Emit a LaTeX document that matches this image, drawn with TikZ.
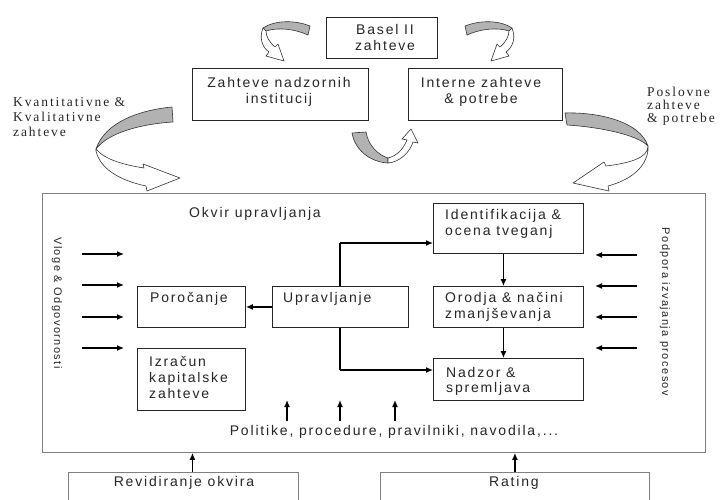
\documentclass[tikz,border=0pt]{standalone}
\usepackage{fontspec}
\setmainfont{Liberation Sans}
\newfontfamily\sansls{Liberation Sans}[LetterSpace=13]
\newfontfamily\serifls{Liberation Serif}[LetterSpace=14]
\usetikzlibrary{arrows.meta}
\begin{document}
\begin{tikzpicture}[x=1pt,y=-1pt,
  box/.style={draw=black!85, line width=0.9pt, fill=white, inner sep=0pt, anchor=north west},
  gbox/.style={draw=black!50, line width=0.9pt, inner sep=0pt, anchor=north west},
  sz/.style 2 args={minimum width=#1pt, minimum height=#2pt},
  txt/.style={font=\sansls\fontsize{14}{16}\selectfont, inner sep=0pt, text=black!85},
  vtxt/.style={font=\sansls\fontsize{11}{13}\selectfont, inner sep=0pt, text=black!85, rotate=-90},
  stxt/.style={font=\serifls\fontsize{13.5}{15}\selectfont, inner sep=0pt, text=black!85, align=left, anchor=north west},
  conn/.style={line width=1.3pt, draw=black, -{Latex[length=7pt,width=6pt]}},
  trunk/.style={line width=1.3pt, draw=black},
  cgray/.style={draw=black!80, line width=0.6pt, line join=round, fill=black!30},
  cwhite/.style={draw=black!80, line width=0.6pt, line join=round, fill=white}
]
\useasboundingbox (0,0) rectangle (720,499);
\clip (0,0) rectangle (720,499);
\fill[white] (0,0) rectangle (720,499);

% ---------- top boxes ----------
\node[box, sz={111}{41}] (basel) at (326,17) {};
\node[txt, align=center, anchor=north] (baselt) at (385,24) {Basel II\\zahteve};
\node[box, sz={176}{52}] (nadz) at (192,68) {};
\node[txt, align=center, anchor=north] (nadzt) at (279,77) {Zahteve nadzornih\\institucij};
\node[box, sz={154}{52}] (intr) at (408,68) {};
\node[txt, align=center, anchor=north] (intrt) at (481,77) {Interne zahteve\\\& potrebe};

% ---------- side labels ----------
\node[stxt] (kvant) at (13,97) {Kvantitativne \&\\Kvalitativne\\zahteve};
\node[stxt, font=\serifls\fontsize{13.5}{13}\selectfont] (posl) at (647,87) {Poslovne\\zahteve\\\& potrebe};

% ---------- curved arrows ----------
% top-left small
\path[cgray] (310,26) .. controls (295,20) and (275,20) .. (263,28) -- (266,31) .. controls (278,27) and (295,29) .. (308,35) -- cycle;
\path[cwhite] (263,28) .. controls (259,38) and (262,47) .. (269,52) -- (266,56) -- (284,61) -- (278,44) -- (275,47) .. controls (269,42) and (266,36) .. (266,31) -- cycle;
% top-right small (mirrored)
\begin{scope}[shift={(775,0)}, xscale=-1]
\path[cgray] (310,26) .. controls (295,20) and (275,20) .. (263,28) -- (266,31) .. controls (278,27) and (295,29) .. (308,35) -- cycle;
\path[cwhite] (263,28) .. controls (259,38) and (262,47) .. (269,52) -- (266,56) -- (284,61) -- (278,44) -- (275,47) .. controls (269,42) and (266,36) .. (266,31) -- cycle;
\end{scope}
% bottom middle
\path[cgray] (352,133) .. controls (355,150) and (370,162) .. (388,163) -- (388,158) .. controls (378,155) and (368,145) .. (366,132) -- cycle;
\path[cwhite] (388,163) .. controls (400,162) and (410,152) .. (413,142) -- (418,143) -- (411,129) -- (402,139) -- (407,140) .. controls (403,150) and (396,156) .. (388,158) -- cycle;
% left large
\path[cgray] (172,107) .. controls (140,110) and (105,122) .. (96,149) .. controls (108,133) and (140,124) .. (173,122) -- cycle;
\path[cwhite] (96,149) .. controls (105,160) and (125,165) .. (144,168) -- (143,164) -- (180,178) -- (147,191) -- (146,186) .. controls (118,180) and (100,168) .. (96,151) -- cycle;
% right large
\path[cgray] (565,113) .. controls (600,112) and (640,122) .. (648,146) .. controls (638,135) and (600,127) .. (567,125) -- cycle;
\path[cwhite] (648,146) .. controls (648,158) and (630,163) .. (606,166) -- (604,162) -- (573,183) -- (609,191) -- (608,186) .. controls (630,180) and (646,168) .. (648,150) -- cycle;

% ---------- main frame ----------
\node[gbox, sz={663}{259}] (big) at (42,193) {};
\node[txt] (okvir) at (255,214) {Okvir upravljanja};
\node[vtxt] (vloge) at (57,303) {Vloge \& Odgovornosti};
\node[vtxt] (podp) at (665,312) {Podpora izvajanja procesov};

\node[box, sz={150}{50}] (ident) at (433,203) {};
\node[txt, align=left, anchor=north west] (identt) at (445,209) {Identifikacija \&\\ocena tveganj};
\node[box, sz={150}{41}] (orod) at (433,286) {};
\node[txt, align=left, anchor=north west] (orodt) at (445,292) {Orodja \& načini\\zmanjševanja};
\node[box, sz={150}{42}] (nad) at (433,358) {};
\node[txt, align=left, anchor=north west, font=\sansls\fontsize{14}{15.5}\selectfont] (nadt) at (446,367) {Nadzor \&\\spremljava};
\node[box, sz={108}{41}] (por) at (137,286) {};
\node[txt, anchor=north west] (port) at (150,292) {Poročanje};
\node[box, sz={108}{62}] (izr) at (137,348) {};
\node[txt, align=left, anchor=north west] (izrt) at (149,356) {Izračun\\kapitalske\\zahteve};

% trunk from Upravljanje
\coordinate (tr1) at (340,243);
\coordinate (tr2) at (340,370);
\draw[trunk] (tr1) -- (tr2);
\draw[conn] (tr1) -- (tr1 -| ident.west);
\draw[conn] (tr2) -- (tr2 -| nad.west);
\node[box, sz={136}{41}] (upr) at (272,286) {};
\node[txt, anchor=north west] (uprt) at (283,292) {Upravljanje};
\draw[conn] (upr) -- (por);
\draw[conn] ([xshift=-5pt]ident.south) -- ([xshift=-5pt]orod.north);
\draw[conn] ([xshift=-5pt]orod.south) -- ([xshift=-5pt]nad.north);

% side arrows
\foreach \i/\y in {1/254,2/285,3/317,4/348} {
  \coordinate (la\i) at (82,\y);
  \coordinate (lb\i) at (124,\y);
  \draw[conn] (la\i) -- (lb\i);
}
\foreach \i/\y in {1/255,2/286,3/317,4/348} {
  \coordinate (ra\i) at (637,\y);
  \coordinate (rb\i) at (595,\y);
  \draw[conn] (ra\i) -- (rb\i);
}
% policy arrows
\node[txt] (polit) at (394,432) {Politike, procedure, pravilniki, navodila,...};
\foreach \i/\x in {1/287,2/340,3/395} {
  \coordinate (pa\i) at (\x,421);
  \coordinate (pb\i) at (\x,400);
  \draw[conn] (pa\i) -- (pb\i);
}

% ---------- bottom boxes ----------
\node[gbox, sz={230}{40}] (rev) at (68,472) {};
\node[txt] (revt) at (184,483) {Revidiranje okvira};
\node[gbox, sz={269}{40}] (rat) at (380,472) {};
\node[txt] (ratt) at (514,483) {Rating};
\draw[conn] ([xshift=9pt]rev.north) -- ([xshift=9pt]rev.north |- big.south);
\draw[conn] (rat.north) -- (rat.north |- big.south);
\end{tikzpicture}
\end{document}
